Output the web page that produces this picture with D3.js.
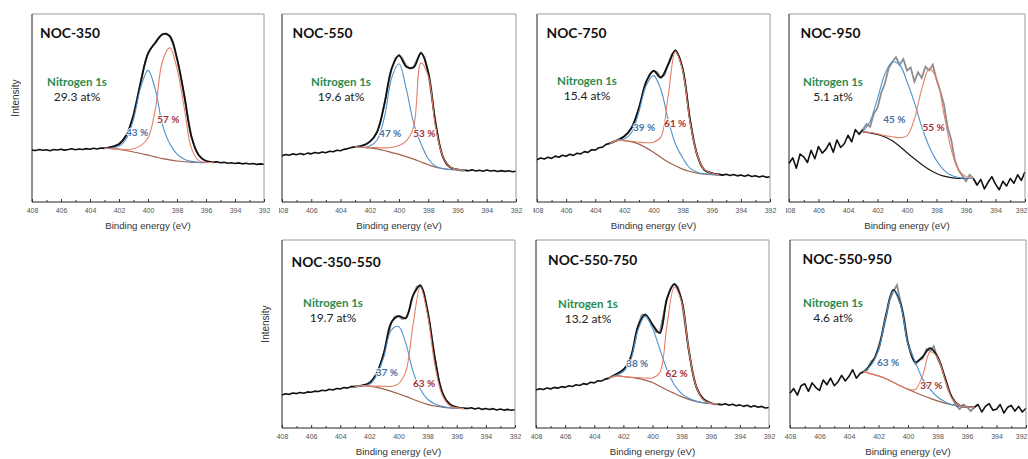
<!DOCTYPE html>
<html>
<head>
<meta charset="utf-8">
<script src="https://cdn.jsdelivr.net/npm/d3@7"></script>
<style>
  body { margin: 0; background: #fff; }
  svg { display: block; }
</style>
</head>
<body>
<svg id="chart" width="1028" height="459"></svg>
<script>
// energy grids (eV): raw spectrum every 0.25 eV, fitted curves every 0.5 eV
const rawEnergy = d3.range(408, 391.99, -0.25);
const fitEnergy = [403, 402.5, 402, 401.5, 401, 400.5, 400, 399.5, 399, 398.5, 398, 397.5, 397, 396.5, 396, 395.5];
const majorTicks = [408, 406, 404, 402, 400, 398, 396, 394, 392];
const minorTicks = [407, 405, 403, 401, 399, 397, 395, 393];

const sampleNames = ["NOC-350", "NOC-550", "NOC-750", "NOC-950", "NOC-350-550", "NOC-550-750", "NOC-550-950"];
const nitrogenAt = ["29.3 at%", "19.6 at%", "15.4 at%", "5.1 at%", "19.7 at%", "13.2 at%", "4.6 at%"];
const bluePercent = [43, 47, 39, 45, 37, 38, 63];
const redPercent = [57, 53, 61, 55, 63, 62, 37];

// NOC-350
const raw350 = [27.6, 27.4, 27.9, 27.5, 27.8, 27.3, 27.9, 27.7, 28.1, 27.6, 27.9, 28.3, 27.8, 28.2, 27.9, 28.4,
  28.1, 28.6, 28.2, 28.7, 28.6, 28.9, 29.4, 30.0, 30.9, 32.8, 35.6, 40.0, 46.4, 55.0, 64.0, 72.5,
  78.8, 82.3, 84.5, 87.2, 89.3, 89.8, 88.0, 83.5, 76.2, 67.0, 56.5, 45.0, 34.8, 28.5, 25.0, 22.8,
  21.9, 21.5, 21.1, 21.4, 20.9, 21.1, 20.6, 20.9, 20.5, 20.8, 20.3, 20.6, 20.2, 20.5, 20.0, 20.3, 20.1];
const env350 = [28.6, 29.3, 30.7, 35.5, 46.2, 63.9, 79.0, 84.7, 89.2, 88.3, 76.4, 56.8, 34.6, 24.9, 21.8, 21.1];
const bg350 = [28.6, 28.4, 28.0, 27.4, 26.6, 25.8, 24.9, 24.0, 23.1, 22.4, 21.8, 21.4, 21.1, 21.0, 21.0, 21.0];
const blue350 = [28.6, 28.6, 29.6, 33.5, 44.0, 61.0, 70.0, 60.0, 41.0, 31.0, 25.5, 22.8, 21.6, 21.1, 21.0, 21.0];
const red350 = [28.6, 28.4, 28.1, 27.8, 28.3, 30.0, 34.0, 49.0, 75.0, 82.0, 71.0, 50.0, 28.5, 22.0, 21.1, 21.0];

// NOC-550
const raw550 = [24.6, 25.3, 24.9, 25.6, 25.1, 25.8, 25.2, 26.0, 25.6, 26.3, 25.9, 26.6, 26.2, 27.0, 26.7, 27.5,
  27.3, 28.0, 28.4, 29.0, 29.3, 29.5, 30.1, 30.8, 32.1, 34.0, 37.3, 43.0, 52.0, 62.0, 71.0, 76.5,
  78.2, 76.0, 72.5, 71.0, 72.0, 76.0, 79.4, 77.0, 69.0, 55.0, 42.0, 31.0, 24.0, 20.0, 18.5, 17.6,
  17.3, 16.7, 16.9, 16.6, 17.1, 16.5, 16.9, 16.4, 17.0, 16.5, 16.8, 16.2, 16.7, 16.3, 16.6, 16.1, 16.4];
const env550 = [29.3, 30.0, 32.0, 37.2, 52.0, 71.0, 78.0, 72.0, 71.5, 79.3, 69.0, 42.0, 24.0, 18.5, 17.2, 16.9];
const bg550 = [29.2, 29.0, 28.8, 28.3, 27.4, 26.3, 25.3, 24.1, 22.8, 21.3, 19.8, 18.5, 17.7, 17.3, 17.1, 17.0];
const blue550 = [29.2, 29.0, 29.8, 33.0, 45.0, 66.0, 73.5, 60.0, 42.0, 31.0, 23.0, 19.0, 17.8, 17.3, 17.1, 17.0];
const red550 = [29.2, 29.1, 29.0, 28.9, 28.8, 29.0, 30.0, 32.5, 40.0, 74.0, 67.0, 40.0, 24.0, 18.6, 17.3, 17.0];

// NOC-750
const raw750 = [22.5, 23.4, 22.9, 23.8, 23.2, 24.4, 23.8, 24.9, 24.3, 25.4, 24.8, 25.9, 25.6, 26.8, 26.4, 27.8,
  27.6, 28.9, 29.2, 30.6, 31.2, 32.2, 32.8, 33.7, 35.0, 36.8, 39.5, 44.0, 50.0, 57.5, 64.0, 68.0,
  69.8, 69.0, 66.2, 67.5, 73.0, 78.5, 80.6, 77.5, 71.0, 59.0, 44.0, 33.0, 25.0, 19.5, 17.0, 15.8,
  15.4, 14.6, 14.7, 14.3, 14.8, 14.1, 14.6, 13.9, 14.4, 13.7, 14.3, 13.6, 14.0, 13.3, 13.8, 13.1, 13.4];
const env750 = [31.2, 32.8, 35.0, 39.5, 50.0, 64.0, 69.8, 66.2, 73.0, 80.6, 71.0, 44.0, 25.0, 17.0, 15.4, 14.7];
const bg750 = [31.2, 32.8, 32.6, 32.0, 30.8, 28.8, 26.5, 23.8, 21.3, 19.3, 17.5, 16.2, 15.3, 14.8, 14.5, 14.4];
const blue750 = [31.2, 32.8, 33.5, 37.0, 48.0, 62.0, 67.2, 60.0, 44.0, 31.0, 23.5, 18.0, 15.8, 15.0, 14.6, 14.4];
const red750 = [31.2, 32.8, 32.6, 32.3, 31.8, 31.5, 31.8, 34.5, 56.0, 80.0, 70.0, 43.0, 25.0, 17.2, 15.3, 14.6];

// NOC-950 (noisy, no drawn envelope)
const raw950 = [20.5, 23.5, 18.0, 25.5, 24.0, 21.0, 27.5, 23.0, 29.5, 26.0, 28.0, 31.5, 26.5, 33.0, 29.0, 31.0,
  35.5, 32.0, 38.5, 36.0, 38.5, 41.5, 40.0, 47.0, 50.0, 58.0, 63.0, 71.0, 74.5, 77.0, 73.0, 76.0,
  70.0, 71.5, 64.0, 69.0, 66.0, 72.0, 70.0, 73.0, 65.0, 59.0, 52.0, 40.0, 33.0, 22.0, 17.0, 14.0,
  11.0, 14.5, 12.5, 9.0, 12.0, 7.0, 10.5, 13.5, 9.5, 6.5, 11.0, 8.5, 12.5, 10.0, 14.5, 11.5, 16.0];
const env950 = [];
const bg950 = [37.2, 36.8, 35.9, 34.6, 32.6, 29.7, 26.2, 23.0, 20.0, 17.3, 15.2, 13.8, 13.0, 12.6, 12.5, 12.5];
const blue950 = [37.4, 43.0, 55.0, 68.0, 74.5, 73.0, 64.0, 53.0, 40.0, 29.5, 22.0, 17.0, 14.2, 13.0, 12.6, 12.5];
const red950 = [37.3, 37.0, 36.3, 35.3, 34.7, 34.2, 35.2, 44.0, 60.0, 70.8, 66.0, 47.0, 28.0, 17.0, 13.5, 12.7];

// NOC-350-550
const raw350550 = [17.6, 18.2, 17.9, 18.6, 18.3, 18.9, 18.5, 19.2, 19.0, 19.6, 19.4, 20.1, 19.8, 20.6, 20.2, 21.0,
  20.8, 21.5, 21.2, 22.1, 22.0, 22.4, 22.6, 23.1, 24.0, 25.8, 29.0, 33.5, 40.0, 48.0, 56.0, 59.3,
  59.6, 58.0, 58.3, 63.0, 70.5, 75.0, 76.0, 72.0, 62.0, 50.0, 37.0, 26.0, 19.0, 15.0, 12.8, 11.6,
  11.1, 10.6, 10.5, 10.4, 10.8, 10.1, 10.6, 9.9, 10.4, 9.8, 10.3, 9.6, 10.1, 9.5, 9.9, 9.4, 9.7];
const env350550 = [22.0, 22.6, 24.0, 29.0, 40.0, 56.0, 59.5, 58.5, 70.5, 75.8, 62.0, 37.0, 19.0, 12.8, 11.0, 10.5];
const bg350550 = [22.0, 22.5, 22.2, 21.6, 20.7, 19.5, 18.2, 16.8, 15.3, 13.8, 12.6, 11.7, 11.1, 10.7, 10.5, 10.4];
const blue350550 = [22.0, 22.5, 23.2, 28.0, 38.0, 52.0, 54.0, 45.0, 30.0, 20.8, 15.3, 12.8, 11.5, 10.8, 10.5, 10.4];
const red350550 = [22.0, 22.5, 22.4, 22.3, 22.2, 22.2, 23.5, 30.0, 55.0, 75.0, 60.0, 33.5, 17.5, 12.0, 10.7, 10.4];

// NOC-550-750
const raw550750 = [20.2, 20.9, 20.5, 21.3, 20.8, 21.6, 21.2, 22.0, 21.6, 22.5, 22.1, 23.0, 22.6, 23.6, 23.2, 24.3,
  24.0, 25.1, 25.0, 26.0, 26.5, 27.6, 28.6, 29.4, 31.0, 33.5, 37.5, 44.0, 54.0, 60.0, 60.5, 58.0,
  55.0, 51.0, 51.0, 60.0, 69.0, 74.5, 76.7, 75.0, 68.0, 54.0, 41.0, 30.0, 22.0, 18.0, 15.5, 14.0,
  13.3, 12.6, 12.7, 12.4, 12.9, 12.1, 12.6, 11.8, 12.3, 11.5, 12.1, 11.2, 11.8, 11.0, 11.5, 10.6, 10.9];
const env550750 = [26.5, 28.6, 31.0, 37.5, 54.0, 60.3, 55.0, 50.5, 69.0, 76.5, 68.0, 41.0, 22.0, 15.3, 13.3, 12.7];
const bg550750 = [26.5, 27.8, 27.4, 26.9, 26.3, 25.5, 24.2, 22.2, 20.2, 18.4, 16.7, 15.2, 14.1, 13.4, 13.0, 12.8];
const blue550750 = [26.5, 28.0, 30.0, 36.0, 52.0, 59.5, 53.0, 42.0, 31.0, 23.0, 18.3, 15.8, 14.3, 13.5, 13.0, 12.8];
const red550750 = [26.5, 27.6, 27.3, 27.0, 26.8, 26.6, 26.6, 29.5, 55.0, 75.0, 67.0, 41.0, 22.0, 15.0, 13.2, 12.8];

// NOC-550-950 (noisy)
const raw550950 = [18.5, 21.0, 17.5, 22.5, 23.5, 19.5, 24.0, 21.5, 20.0, 25.5, 23.0, 26.5, 22.5, 24.5, 28.0, 25.0,
  27.5, 31.0, 26.5, 29.0, 30.0, 31.0, 35.5, 37.0, 43.5, 50.0, 58.5, 68.0, 72.5, 76.0, 67.0, 58.0,
  45.0, 39.5, 34.0, 36.0, 37.0, 42.0, 41.0, 43.5, 37.0, 33.0, 26.5, 20.0, 16.0, 12.0, 10.0, 12.5,
  11.2, 9.0, 11.0, 12.5, 8.5, 11.5, 13.0, 9.5, 10.0, 12.5, 8.0, 11.0, 12.0, 9.0, 11.5, 8.5, 10.5];
const env550950 = [30.0, 34.0, 42.0, 60.0, 73.5, 66.0, 45.0, 35.0, 38.0, 42.5, 38.0, 27.0, 16.0, 12.0, 11.2, 11.0];
const bg550950 = [30.0, 28.8, 27.7, 26.2, 24.3, 22.3, 20.5, 18.9, 17.3, 15.8, 14.4, 13.2, 12.3, 11.6, 11.2, 11.0];
const blue550950 = [30.0, 33.5, 41.5, 59.5, 73.0, 65.5, 44.5, 35.0, 26.0, 20.5, 16.5, 14.0, 12.4, 11.6, 11.2, 11.0];
const red550950 = [30.0, 28.8, 27.7, 26.2, 24.3, 22.4, 20.8, 20.5, 28.0, 40.5, 37.5, 26.0, 15.5, 12.0, 11.2, 11.0];

const rawSets = [raw350, raw550, raw750, raw950, raw350550, raw550750, raw550950];
const envSets = [env350, env550, env750, env950, env350550, env550750, env550950];
const bgSets = [bg350, bg550, bg750, bg950, bg350550, bg550750, bg550950];
const blueSets = [blue350, blue550, blue750, blue950, blue350550, blue550750, blue550950];
const redSets = [red350, red550, red750, red950, red350550, red550750, red550950];

// layout: frame boxes [left, top, right, bottom]
const frames = [[32, 14, 264, 202], [282, 14, 516, 202], [537, 14, 770, 202], [789, 14, 1025, 202],
  [282, 240, 515, 428], [536, 240, 769, 428], [790, 240, 1026, 428]];
const clipLeft = [null, 3, 4, 3, null, null, null];
const showIntensity = [true, false, false, false, true, false, false];
const titleOffset = [[8, 18], [10.5, 18.5], [9.5, 18], [11.5, 18], [9.5, 21], [12, 19.5], [12.5, 18.5]];
const nitroOffset = [[45, 67], [59, 67], [50, 66], [44, 67], [51, 62], [52, 63], [43, 62]];
const blueLabelAt = [[400.75, 37.3], [400.6, 36.8], [400.64, 39.8], [400.86, 44], [400.8, 29.7], [401.05, 34.6], [401.35, 35]];
const redLabelAt = [[398.6, 44.4], [398.27, 36.8], [398.51, 41.9], [398.2, 40], [398.24, 24], [398.35, 29.3], [398.42, 23.1]];
const bgColor = ["#a0604c", "#a0604c", "#a0604c", "#1a1a1a", "#a0604c", "#a0604c", "#a0604c"];

const svg = d3.select("#chart");
const defs = svg.append("defs");
const pageWidth = 1028;

sampleNames.forEach((name, i) => {
  const [x0, y0, x1, y1] = frames[i];
  const g = svg.append("g");
  if (clipLeft[i] != null) {
    defs.append("clipPath").attr("id", "clip" + i)
      .append("rect").attr("x", x0 - clipLeft[i]).attr("y", 0).attr("width", pageWidth).attr("height", 459);
    g.attr("clip-path", "url(#clip" + i + ")");
  }

  const x = d3.scaleLinear().domain([408, 392]).range([x0, x1]);
  const y = d3.scaleLinear().domain([0, 100]).range([y1, y0]);

  const raw = rawEnergy.map((e, k) => [e, rawSets[i][k]]);
  const fitStart = fitEnergy[0], fitEnd = fitEnergy[fitEnergy.length - 1];

  const rawLine = d3.line().x(d => x(d[0])).y(d => y(d[1]));
  const fitLine = d3.line().x(d => x(d[0])).y(d => y(d[1])).curve(d3.curveCatmullRom.alpha(0.5));

  // raw data (grey) under the fit
  g.append("path").datum(raw.filter(d => d[0] <= fitStart + 0.3 && d[0] >= fitEnd - 0.3))
    .attr("d", rawLine).attr("fill", "none").attr("stroke", "#8d8d8d").attr("stroke-width", 1.8);

  // raw data outside of the fitted window (black)
  [raw.filter(d => d[0] >= fitStart), raw.filter(d => d[0] <= fitEnd)].forEach(seg => {
    g.append("path").datum(seg)
      .attr("d", rawLine).attr("fill", "none").attr("stroke", "#111").attr("stroke-width", 1.6)
      .attr("stroke-linejoin", "round");
  });

  // envelope
  if (envSets[i].length) {
    g.append("path").datum(fitEnergy.map((e, k) => [e, envSets[i][k]]))
      .attr("d", fitLine).attr("fill", "none").attr("stroke", "#111").attr("stroke-width", 1.8);
  }

  // components
  [[bgSets[i], bgColor[i], 1.2], [blueSets[i], "#4d93cf", 1.1], [redSets[i], "#e4806a", 1.1]].forEach(([vals, col, w]) => {
    g.append("path").datum(fitEnergy.map((e, k) => [e, vals[k]]))
      .attr("d", fitLine).attr("fill", "none").attr("stroke", col).attr("stroke-width", w);
  });

  // frame
  g.append("line").attr("x1", x0).attr("x2", x1).attr("y1", y0).attr("y2", y0).attr("stroke", "#9a9a9a");
  g.append("line").attr("x1", x1).attr("x2", x1).attr("y1", y0).attr("y2", y1).attr("stroke", "#9a9a9a");
  g.append("line").attr("x1", x0).attr("x2", x0).attr("y1", y0).attr("y2", y1).attr("stroke", "#222");
  g.append("line").attr("x1", x0).attr("x2", x1).attr("y1", y1).attr("y2", y1).attr("stroke", "#222");

  // x axis
  const major = d3.axisBottom(x).tickValues(majorTicks).tickSizeInner(-3).tickSizeOuter(0)
    .tickPadding(6).tickFormat(d3.format("d"));
  g.append("g").attr("transform", `translate(0,${y1})`).call(major)
    .call(a => a.select(".domain").remove())
    .call(a => a.selectAll("line").attr("stroke", "#333"))
    .call(a => a.selectAll("text").attr("font-family", "Liberation Sans, Arial, sans-serif")
      .attr("font-size", 7).attr("fill", "#555"))
    // last label would run off the page edge: keep it inside
    .call(a => a.selectAll(".tick text").filter(d => x(d) + 6 > pageWidth).attr("text-anchor", "end").attr("x", pageWidth - 1 - x1));
  const minor = d3.axisBottom(x).tickValues(minorTicks).tickSizeInner(-2).tickSizeOuter(0).tickFormat("");
  g.append("g").attr("transform", `translate(0,${y1})`).call(minor)
    .call(a => a.select(".domain").remove())
    .call(a => a.selectAll("line").attr("stroke", "#333"));

  g.append("text").attr("x", (x0 + x1) / 2).attr("y", y1 + 23)
    .attr("text-anchor", "middle").attr("dominant-baseline", "central")
    .attr("font-family", "Liberation Sans, Arial, sans-serif").attr("font-size", 9.7).attr("fill", "#333")
    .text("Binding energy (eV)");

  if (showIntensity[i]) {
    g.append("text").attr("transform", `translate(${x0 - 17},${y0 + 84}) rotate(-90)`)
      .attr("text-anchor", "middle").attr("dominant-baseline", "central")
      .attr("font-family", "Liberation Sans, Arial, sans-serif").attr("font-size", 10).attr("fill", "#333")
      .text("Intensity");
  }

  // labels
  g.append("text").attr("x", x0 + titleOffset[i][0]).attr("y", y0 + titleOffset[i][1])
    .attr("dominant-baseline", "central")
    .attr("font-family", "Lato, sans-serif").attr("font-weight", "bold").attr("font-size", 13.8)
    .attr("fill", "#111").text(name);
  g.append("text").attr("x", x0 + nitroOffset[i][0]).attr("y", y0 + nitroOffset[i][1])
    .attr("text-anchor", "middle").attr("dominant-baseline", "central")
    .attr("font-family", "Lato, sans-serif").attr("font-weight", "bold").attr("font-size", 11.5)
    .attr("fill", "#2b8a4e").text("Nitrogen 1s");
  g.append("text").attr("x", x0 + nitroOffset[i][0]).attr("y", y0 + nitroOffset[i][1] + 15.5)
    .attr("text-anchor", "middle").attr("dominant-baseline", "central")
    .attr("font-family", "Lato, sans-serif").attr("font-size", 12)
    .attr("fill", "#222").text(nitrogenAt[i]);

  [[blueLabelAt[i], "#4a6fa3", bluePercent[i]], [redLabelAt[i], "#a83232", redPercent[i]]].forEach(([at, col, v]) => {
    g.append("text").attr("x", x(at[0])).attr("y", y(at[1]))
      .attr("text-anchor", "middle").attr("dominant-baseline", "central")
      .attr("font-family", "Lato, sans-serif").attr("font-weight", "bold").attr("font-size", 10)
      .attr("stroke", "#fff").attr("stroke-width", 1.6).attr("paint-order", "stroke")
      .attr("fill", col).text(v + " %");
  });
});
</script>
</body>
</html>
